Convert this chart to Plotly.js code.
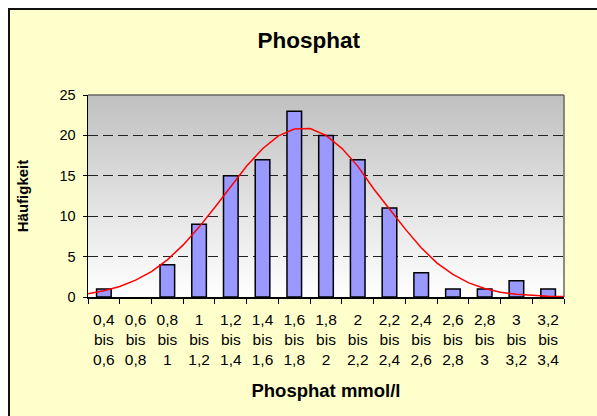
<!DOCTYPE html>
<html><head><meta charset="utf-8">
<script src="https://cdn.plot.ly/plotly-3.0.1.min.js"></script>
<style>
html,body{margin:0;padding:0;background:#fff;width:597px;height:416px;overflow:hidden}
#frame{position:absolute;left:8px;top:8px;width:587px;height:406px;border-top:2px solid #111;border-left:2px solid #111;background:#FFFFCC}
#chart{width:587px;height:406px}
</style></head><body>
<div id="frame"><div id="chart"></div></div>
<script>
const lowerBounds = ['0,4','0,6','0,8','1','1,2','1,4','1,6','1,8','2','2,2','2,4','2,6','2,8','3','3,2'];
const upperBounds = ['0,6','0,8','1','1,2','1,4','1,6','1,8','2','2,2','2,4','2,6','2,8','3','3,2','3,4'];
const counts = [1, 0, 4, 9, 15, 17, 23, 20, 17, 11, 3, 1, 1, 2, 1];
const curveX = [0.4,0.5,0.6,0.7,0.8,0.9,1.0,1.1,1.2,1.3,1.4,1.5,1.6,1.7,1.8,1.9,2.0,2.1,2.2,2.3,2.4,2.5,2.6,2.7,2.8,2.9,3.0,3.1,3.2,3.3,3.4];
const curveY = [0.40,0.78,1.30,2.08,3.15,4.6,6.45,8.65,11.1,13.7,16.2,18.35,19.95,20.8,20.85,20.0,18.4,16.2,13.4,10.9,8.4,6.1,4.2,2.8,1.75,1.05,0.6,0.33,0.18,0.1,0.05];
const chartTitle = 'Phosphat';
const xTitle = 'Phosphat mmol/l';
const yTitle = 'Häufigkeit';

const categories = lowerBounds.map((lo, i) => lo + '<br>bis<br>' + upperBounds[i]);
const FONT = 'Liberation Sans, Arial, sans-serif';

const svg = '<svg xmlns="http://www.w3.org/2000/svg" width="100" height="100" preserveAspectRatio="none"><defs><linearGradient id="g" x1="0" y1="0" x2="0" y2="1"><stop offset="0" stop-color="#C0C0C0"/><stop offset="1" stop-color="#FFFFFF"/></linearGradient></defs><rect width="100" height="100" fill="url(#g)"/></svg>';

const traces = [
  {type:'bar', x:categories, y:counts, marker:{color:'#9999FF', line:{color:'#000', width:counts.map(v => v > 0 ? 1.5 : 0)}}, hoverinfo:'y'},
  {type:'scatter', mode:'lines', x:curveX, y:curveY, xaxis:'x2', yaxis:'y', line:{color:'#FF0000', width:1.5}, hoverinfo:'skip'}
];

const layout = {
  width:587, height:406,
  margin:{l:78, r:33, t:85, b:119},
  paper_bgcolor:'#FFFFCC', plot_bgcolor:'rgba(0,0,0,0)',
  showlegend:false,
  bargap:0.54,
  font:{family:FONT, color:'#000', size:14},
  title:{text:'<b>'+chartTitle+'</b>', font:{size:22.5, family:FONT, color:'#000'}, xref:'container', yref:'container', x:0.509, xanchor:'center', y:0.926, yanchor:'middle'},
  xaxis:{type:'category', tickson:'boundaries', ticks:'outside', ticklen:5, tickcolor:'#000', showline:true, linecolor:'#000', linewidth:1.5, showgrid:false, ticklabelstandoff:8, tickfont:{size:15.5, family:FONT}, title:{text:'<b>'+xTitle+'</b>', font:{size:18.5, family:FONT}, standoff:16}},
  xaxis2:{overlaying:'x', range:[0.4,3.4], visible:false, anchor:'y'},
  yaxis:{range:[0,25], dtick:5, ticks:'outside', ticklen:4, tickcolor:'#000', showline:true, linecolor:'#000', linewidth:1.5, showgrid:true, gridcolor:'#222', griddash:'10px,5px', gridwidth:1, zeroline:false, ticklabelstandoff:4, tickfont:{size:14.5, family:FONT}, title:{text:'<b>'+yTitle+'</b>', font:{size:15, family:FONT}, standoff:27}},
  images:[{source:'data:image/svg+xml;charset=utf-8,'+encodeURIComponent(svg), xref:'paper', yref:'paper', x:0, y:1, sizex:1, sizey:1, sizing:'stretch', xanchor:'left', yanchor:'top', layer:'below'}],
  shapes:[
    {type:'line', xref:'paper', yref:'paper', x0:0, x1:1, y0:1, y1:1, line:{color:'#666', width:1.5}},
    {type:'line', xref:'paper', yref:'paper', x0:1, x1:1, y0:0, y1:1, line:{color:'#666', width:1.5}}
  ]
};

Plotly.newPlot('chart', traces, layout, {displayModeBar:false, staticPlot:true});
</script>
</body></html>
